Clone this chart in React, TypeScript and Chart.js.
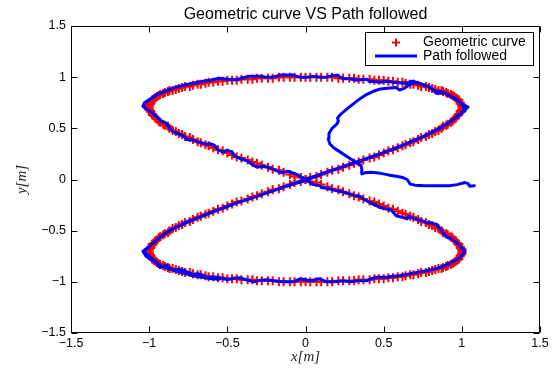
import { useEffect, useRef } from 'react';
import { Chart, registerables } from 'chart.js';

Chart.register(...registerables);

const TITLE = 'Geometric curve VS Path followed';
const X_LABEL = 'x[m]';
const Y_LABEL = 'y[m]';
const CURVE_LABEL = 'Geometric curve';
const PATH_LABEL = 'Path followed';
const AXIS_MIN = -1.5;
const AXIS_MAX = 1.5;
const AXIS_STEP = 0.5;

// Geometric curve (red "+" markers)
const curveX = [
  0, .03, .07, .10, .14, .17, .21, .24, .28, .31,
  .34, .37, .41, .44, .47, .50, .53, .56, .59, .62,
  .64, .67, .69, .72, .74, .77, .79, .81, .83, .85,
  .87, .88, .90, .91, .93, .94, .95, .96, .97, .98,
  .98, .99, .99, 1, 1, 1, 1, 1, .99, .99,
  .98, .98, .97, .96, .95, .94, .93, .91, .90, .88,
  .87, .85, .83, .81, .79, .77, .74, .72, .69, .67,
  .64, .62, .59, .56, .53, .50, .47, .44, .41, .37,
  .34, .31, .28, .24, .21, .17, .14, .10, .07, .03,
  0, -.03, -.07, -.10, -.14, -.17, -.21, -.24, -.28, -.31,
  -.34, -.37, -.41, -.44, -.47, -.50, -.53, -.56, -.59, -.62,
  -.64, -.67, -.69, -.72, -.74, -.77, -.79, -.81, -.83, -.85,
  -.87, -.88, -.90, -.91, -.93, -.94, -.95, -.96, -.97, -.98,
  -.98, -.99, -.99, -1, -1, -1, -1, -1, -.99, -.99,
  -.98, -.98, -.97, -.96, -.95, -.94, -.93, -.91, -.90, -.88,
  -.87, -.85, -.83, -.81, -.79, -.77, -.74, -.72, -.69, -.67,
  -.64, -.62, -.59, -.56, -.53, -.50, -.47, -.44, -.41, -.37,
  -.34, -.31, -.28, -.24, -.21, -.17, -.14, -.10, -.07, -.03,
  0, .03, .07, .10, .14, .17, .21, .24, .28, .31,
  .34, .37, .41, .44, .47, .50, .53, .56, .59, .62,
  .64, .67, .69, .72, .74, .77, .79, .81, .83, .85,
  .87, .88, .90, .91, .93, .94, .95, .96, .97, .98,
  .98, .99, .99, 1, 1, 1, 1, 1, .99, .99,
  .98, .98, .97, .96, .95, .94, .93, .91, .90, .88,
  .87, .85, .83, .81, .79, .77, .74, .72, .69, .67,
  .64, .62, .59, .56, .53, .50, .47, .44, .41, .37,
  .34, .31, .28, .24, .21, .17, .14, .10, .07, .03,
  0, -.03, -.07, -.10, -.14, -.17, -.21, -.24, -.28, -.31,
  -.34, -.37, -.41, -.44, -.47, -.50, -.53, -.56, -.59, -.62,
  -.64, -.67, -.69, -.72, -.74, -.77, -.79, -.81, -.83, -.85,
  -.87, -.88, -.90, -.91, -.93, -.94, -.95, -.96, -.97, -.98,
  -.98, -.99, -.99, -1, -1, -1, -1, -1, -.99, -.99,
  -.98, -.98, -.97, -.96, -.95, -.94, -.93, -.91, -.90, -.88,
  -.87, -.85, -.83, -.81, -.79, -.77, -.74, -.72, -.69, -.67,
  -.64, -.62, -.59, -.56, -.53, -.50, -.47, -.44, -.41, -.37,
  -.34, -.31, -.28, -.24, -.21, -.17, -.14, -.10, -.07, -.03,
];

const curveY = [
  0, .02, .03, .05, .07, .09, .10, .12, .14, .16,
  .17, .19, .21, .22, .24, .26, .28, .29, .31, .33,
  .34, .36, .37, .39, .41, .42, .44, .45, .47, .48,
  .50, .52, .53, .54, .56, .57, .59, .60, .62, .63,
  .64, .66, .67, .68, .69, .71, .72, .73, .74, .75,
  .77, .78, .79, .80, .81, .82, .83, .84, .85, .86,
  .87, .87, .88, .89, .90, .91, .91, .92, .93, .93,
  .94, .95, .95, .96, .96, .97, .97, .97, .98, .98,
  .98, .99, .99, .99, .99, 1, 1, 1, 1, 1,
  1, 1, 1, 1, 1, 1, .99, .99, .99, .99,
  .98, .98, .98, .97, .97, .97, .96, .96, .95, .95,
  .94, .93, .93, .92, .91, .91, .90, .89, .88, .87,
  .87, .86, .85, .84, .83, .82, .81, .80, .79, .78,
  .77, .75, .74, .73, .72, .71, .69, .68, .67, .66,
  .64, .63, .62, .60, .59, .57, .56, .54, .53, .52,
  .50, .48, .47, .45, .44, .42, .41, .39, .37, .36,
  .34, .33, .31, .29, .28, .26, .24, .22, .21, .19,
  .17, .16, .14, .12, .10, .09, .07, .05, .03, .02,
  0, -.02, -.03, -.05, -.07, -.09, -.10, -.12, -.14, -.16,
  -.17, -.19, -.21, -.22, -.24, -.26, -.28, -.29, -.31, -.33,
  -.34, -.36, -.37, -.39, -.41, -.42, -.44, -.45, -.47, -.48,
  -.50, -.52, -.53, -.54, -.56, -.57, -.59, -.60, -.62, -.63,
  -.64, -.66, -.67, -.68, -.69, -.71, -.72, -.73, -.74, -.75,
  -.77, -.78, -.79, -.80, -.81, -.82, -.83, -.84, -.85, -.86,
  -.87, -.87, -.88, -.89, -.90, -.91, -.91, -.92, -.93, -.93,
  -.94, -.95, -.95, -.96, -.96, -.97, -.97, -.97, -.98, -.98,
  -.98, -.99, -.99, -.99, -.99, -1, -1, -1, -1, -1,
  -1, -1, -1, -1, -1, -1, -.99, -.99, -.99, -.99,
  -.98, -.98, -.98, -.97, -.97, -.97, -.96, -.96, -.95, -.95,
  -.94, -.93, -.93, -.92, -.91, -.91, -.90, -.89, -.88, -.87,
  -.87, -.86, -.85, -.84, -.83, -.82, -.81, -.80, -.79, -.78,
  -.77, -.75, -.74, -.73, -.72, -.71, -.69, -.68, -.67, -.66,
  -.64, -.63, -.62, -.60, -.59, -.57, -.56, -.54, -.53, -.52,
  -.50, -.48, -.47, -.45, -.44, -.42, -.41, -.39, -.37, -.36,
  -.34, -.33, -.31, -.29, -.28, -.26, -.24, -.22, -.21, -.19,
  -.17, -.16, -.14, -.12, -.10, -.09, -.07, -.05, -.03, -.02,
];

// Path followed (blue line)
const pathX = [
  1.08, 1.05, 1.04, 1.02, .97, .92, .84, .76, .70, .67,
  .65, .62, .59, .53, .48, .42, .38, .36, .36, .355,
  .33, .30, .26, .22, .18, .155, .145, .15, .17, .20,
  .21, .205, .22, .25, .29, .34, .39, .44, .48, .54,
  .58, .60, .63, .67,
  .70, .73, .76, .79, .81, .84, .87, .90, .93, .96, .99, 1.02, 1.04,
  1.02, .99, .94, .87, .77, .69, .64, .50, .34, .17, 0, -.17, -.34, -.50,
  -.64, -.77, -.87, -.94, -.98, -1.01, -1.04,
  -1.02, -1.0, -.97, -.95, -.93, -.91, -.89, -.87, -.85, -.81,
  -.78, -.75, -.72, -.69, -.66, -.63, -.60, -.57, -.53, -.50,
  -.46, -.42, -.38, -.33, -.29, -.25, -.20, -.15, -.08, -.035,
  .03, .09, .135, .19, .24, .285, .34, .39, .43, .455,
  .52, .56, .60, .67, .72, .78, .82, .86, .90, .945,
  .97, .99, 1.02,
  1.0, .97, .94, .90, .88, .86, .84, .80, .77, .74,
  .70, .66, .65, .62, .58, .55, .51, .48, .44, .41,
  .37, .35, .31, .26, .20, .15, .11, .09, .05, .02, -.02,
  -.05, -.09, -.12, -.15, -.19, -.23, -.27, -.31, -.34, -.37,
  -.41, -.45, -.47, -.50, -.53, -.56, -.58, -.61, -.64, -.68,
  -.72, -.76, -.78, -.82, -.85, -.87, -.89, -.92, -.94, -.96,
  -.98, -1.01, -1.04,
  -1.03, -1.0, -.95, -.89, -.82, -.75, -.675, -.61, -.55, -.50,
  -.44, -.40, -.355, -.29, -.25, -.21, -.16, -.08, -.035, .01,
  .05, .10, .135, .17, .20, .24, .28, .33, .36, .39,
  .41, .45, .48, .52, .56, .60, .64, .67, .69,
  .73, .78, .80, .82, .84, .88, .92, .96, .99, 1.01,
  1.02, .99, .95, .88, .78, .69, .55, .40, .25, .10,
  0, -.15, -.30, -.45, -.60, -.72, -.82, -.90, -.96, -1.0,
  -1.03, -1.02, -.99, -.96, -.93, -.88, -.83, -.78, -.72, -.66,
  -.60, -.55,
];

const pathY = [
  -.06, -.065, -.04, -.03, -.05, -.06, -.06, -.06, -.055, -.045,
  0, .02, .03, .045, .06, .07, .065, .055, .10, .14,
  .16, .19, .23, .27, .31, .35, .40, .45, .50, .54,
  .57, .60, .63, .67, .72, .78, .83, .865, .885, .895,
  .90, .875, .89, .93,
  .95, .94, .915, .91, .88, .86, .86, .835, .81, .785, .75, .72, .71,
  .68, .645, .58, .51, .43, .38, .345, .265, .18, .09, 0, -.09, -.18, -.26,
  -.345, -.42, -.50, -.575, -.63, -.67, -.70,
  -.75, -.77, -.80, -.82, -.86, -.85, -.835, -.86, -.885, -.88,
  -.885, -.91, -.93, -.92, -.935, -.96, -.95, -.955, -.965, -.98,
  -.965, -.96, -.98, -1.0, -.985, -.98, -.99, -1.0, -1.0, -.97,
  -.99, -.97, -1.0, -1.0, -.99, -1.0, -.99, -.99, -.965, -.955,
  -.955, -.945, -.94, -.92, -.905, -.89, -.875, -.86, -.835, -.80,
  -.78, -.76, -.70,
  -.67, -.62, -.585, -.56, -.52, -.48, -.44, -.425, -.42, -.40,
  -.385, -.36, -.385, -.37, -.355, -.30, -.285, -.275, -.245, -.225,
  -.19, -.165, -.155, -.13, -.11, -.09, -.08, -.06, -.05, -.02, .02,
  .045, .07, .08, .065, .09, .115, .13, .12, .145, .18,
  .20, .225, .27, .285, .27, .29, .33, .35, .345, .365,
  .385, .39, .425, .45, .47, .51, .55, .565, .60, .625,
  .65, .68, .715,
  .75, .78, .83, .87, .905, .93, .955, .97, .99, .98,
  .975, .995, 1.01, 1.01, 1.0, 1.0, 1.02, 1.02, 1.0, 1.0,
  1.01, 1.0, 1.0, 1.015, 1.02, .985, .985, .97, .975, .98,
  .96, .955, .95, .96, .95, .945, .94, .955, .96,
  .935, .915, .89, .87, .84, .85, .82, .79, .755, .71,
  .67, .64, .59, .52, .44, .375, .29, .21, .13, .05,
  -.01, -.08, -.16, -.235, -.32, -.395, -.46, -.53, -.60, -.655,
  -.69, -.73, -.76, -.80, -.84, -.87, -.895, -.915, -.94, -.955,
  -.97, -.975,
];

const SANS = "'Liberation Sans', Arial, Helvetica, sans-serif";
const SERIF = "'Liberation Serif', 'Times New Roman', serif";

const fmtTick = (value: number | string) => {
  const v = Number(value);
  return v < 0 ? '\u2212' + String(-v) : String(v);
};

const framePlugin = {
  id: 'matlabFrame',
  afterDatasetsDraw(chart: any) {
    const { ctx, chartArea: a, scales } = chart;
    const L = Math.round(a.left) + 0.5;
    const R = Math.round(a.right) - 0.5;
    const T = Math.round(a.top) + 0.5;
    const B = Math.round(a.bottom) - 0.5;
    const tick = 6;
    ctx.save();
    ctx.strokeStyle = '#000';
    ctx.lineWidth = 1;
    ctx.beginPath();
    ctx.rect(L, T, R - L, B - T);
    scales.x.ticks.forEach((t: any) => {
      const px = Math.round(scales.x.getPixelForValue(t.value)) + 0.5;
      ctx.moveTo(px, B);
      ctx.lineTo(px, B - tick);
      ctx.moveTo(px, T);
      ctx.lineTo(px, T + tick);
    });
    scales.y.ticks.forEach((t: any) => {
      const py = Math.round(scales.y.getPixelForValue(t.value)) + 0.5;
      ctx.moveTo(L, py);
      ctx.lineTo(L + tick, py);
      ctx.moveTo(R, py);
      ctx.lineTo(R - tick, py);
    });
    ctx.stroke();
    ctx.restore();
  },
};

const legendPlugin = {
  id: 'matlabLegend',
  afterDraw(chart: any) {
    const { ctx, chartArea: a } = chart;
    const w = 168;
    const h = 33;
    const right = Math.round(a.right) - 6.5;
    const left = right - w;
    const top = Math.round(a.top) + 6.5;
    ctx.save();
    ctx.fillStyle = '#fff';
    ctx.fillRect(left, top, w, h);
    ctx.strokeStyle = '#000';
    ctx.lineWidth = 1;
    ctx.strokeRect(left, top, w, h);

    const y1 = top + 10;
    const y2 = top + 23.5;
    const cx = left + 30.5;
    const r = 4;
    ctx.strokeStyle = 'rgb(255,0,0)';
    ctx.lineWidth = 2;
    ctx.beginPath();
    ctx.moveTo(cx - r, y1);
    ctx.lineTo(cx + r, y1);
    ctx.moveTo(cx, y1 - r);
    ctx.lineTo(cx, y1 + r);
    ctx.stroke();

    ctx.strokeStyle = 'rgb(0,0,255)';
    ctx.lineWidth = 3;
    ctx.beginPath();
    ctx.moveTo(left + 9.5, y2);
    ctx.lineTo(left + 51.5, y2);
    ctx.stroke();

    ctx.fillStyle = '#000';
    ctx.font = `14px ${SANS}`;
    ctx.textBaseline = 'middle';
    ctx.textAlign = 'left';
    ctx.fillText(CURVE_LABEL, left + 57.5, y1);
    ctx.fillText(PATH_LABEL, left + 57.5, y2);
    ctx.restore();
  },
};

export default function App() {
  const ref = useRef<HTMLCanvasElement | null>(null);

  useEffect(() => {
    if (!ref.current) return;
    const curveData = curveX.map((x, i) => ({ x, y: curveY[i] }));
    const pathData = pathX.map((x, i) => ({ x, y: pathY[i] }));
    const chart = new Chart(ref.current, {
      type: 'scatter',
      data: {
        datasets: [
          {
            label: PATH_LABEL,
            data: pathData,
            showLine: true,
            borderColor: 'rgb(0,0,255)',
            backgroundColor: 'rgb(0,0,255)',
            borderWidth: 3,
            borderJoinStyle: 'round',
            borderCapStyle: 'round',
            pointRadius: 0,
            pointHoverRadius: 0,
            tension: 0,
            fill: false,
            order: 1,
          } as any,
          {
            label: CURVE_LABEL,
            data: curveData,
            showLine: false,
            pointStyle: 'cross',
            pointRadius: 4.5,
            pointHoverRadius: 4.5,
            borderColor: 'rgb(255,0,0)',
            backgroundColor: 'rgb(255,0,0)',
            borderWidth: 2,
            pointBorderWidth: 2,
            order: 2,
          } as any,
        ],
      },
      options: {
        animation: false,
        responsive: false,
        events: [],
        layout: { padding: { left: 0, right: 14, top: 0, bottom: 0 } },
        plugins: {
          legend: { display: false },
          tooltip: { enabled: false },
          title: {
            display: true,
            text: TITLE,
            fullSize: false,
            color: '#000',
            font: { family: SANS, size: 16, weight: 'normal' },
            padding: { top: 5.4, bottom: 1.4 },
          },
        },
        scales: {
          x: {
            type: 'linear',
            position: 'bottom',
            min: AXIS_MIN,
            max: AXIS_MAX,
            grid: { display: false, drawTicks: false },
            border: { display: false },
            ticks: {
              stepSize: AXIS_STEP,
              padding: 3,
              color: '#000',
              maxRotation: 0,
              autoSkip: false,
              font: { family: SANS, size: 12.5 },
              callback: fmtTick,
            },
            title: {
              display: true,
              text: X_LABEL,
              color: '#222',
              font: { family: SERIF, size: 15, style: 'italic' },
              padding: { top: 0, bottom: 6 },
            },
            afterFit(scale: any) {
              scale.height = 39;
            },
          },
          y: {
            type: 'linear',
            position: 'left',
            min: AXIS_MIN,
            max: AXIS_MAX,
            grid: { display: false, drawTicks: false },
            border: { display: false },
            ticks: {
              stepSize: AXIS_STEP,
              padding: 5,
              color: '#000',
              autoSkip: false,
              font: { family: SANS, size: 12.5 },
              callback: fmtTick,
            },
            title: {
              display: true,
              text: Y_LABEL,
              color: '#222',
              font: { family: SERIF, size: 15, style: 'italic' },
              padding: { top: 13, bottom: 0 },
            },
            afterFit(scale: any) {
              scale.width = 71;
            },
          },
        },
      } as any,
      plugins: [framePlugin, legendPlugin],
    });
    return () => chart.destroy();
  }, []);

  return (
    <div style={{ position: 'fixed', left: 0, top: 0, width: 554, height: 372, background: '#fff' }}>
      <canvas ref={ref} width={554} height={372} style={{ display: 'block' }} />
    </div>
  );
}
